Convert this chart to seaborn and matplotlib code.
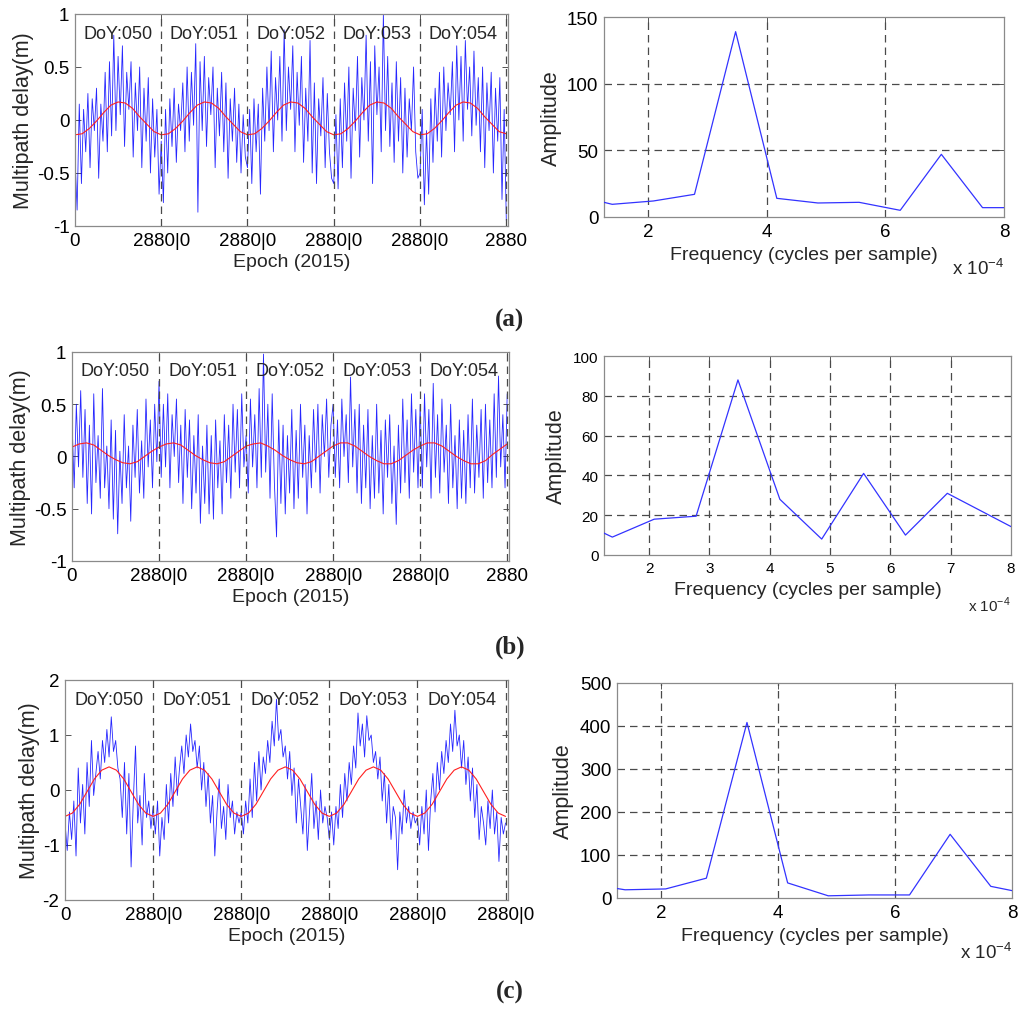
import numpy as np
import pandas as pd
import matplotlib
matplotlib.use("Agg")
import matplotlib.pyplot as plt
import seaborn as sns

sns.set_theme(style="white")
plt.rcParams['font.family'] = ['Liberation Sans', 'DejaVu Sans']
plt.rcParams['mathtext.fontset'] = 'custom'
plt.rcParams['mathtext.rm'] = 'Liberation Sans'

# ---------------- data ----------------
day_labels = ["DoY:050", "DoY:051", "DoY:052", "DoY:053", "DoY:054"]
epochs_per_day = 2880
noise_step = 72      # epoch spacing of the read noise samples
fit_step = 240       # epoch spacing of the read fitted-curve samples

xtick_labels_ab = ["0", "2880|0", "2880|0", "2880|0", "2880|0", "2880"]
xtick_labels_c = ["0", "2880|0", "2880|0", "2880|0", "2880|0", "2880|0"]

noise_a = [
    -0.35, -0.85, 0.15, -0.6, 0.1, -0.3, 0.25, -0.45, 0.2, -0.1,
    0.3, -0.55, 0.15, -0.2, 0.45, -0.3, 0.55, -0.15, 0.8, -0.1,
    0.6, 0.05, 0.7, -0.25, 0.45, 0.1, 0.55, -0.35, 0.35, -0.1,
    0.5, -0.45, 0.3, -0.2, 0.4, -0.5, 0.2, -0.35, 0.1, -0.7,
    -0.2, -0.78, 0.1, -0.5, 0.2, -0.25, 0.3, -0.4, 0.15, -0.1,
    0.35, -0.3, 0.5, -0.2, 0.45, -0.05, 0.72, -0.87, 0.55, -0.1,
    0.6, -0.25, 0.4, 0.05, 0.5, -0.45, 0.3, -0.15, 0.45, -0.3,
    0.35, -0.55, 0.2, -0.2, 0.3, -0.4, 0.15, -0.5, 0.05, -0.35,
    -0.45, 0.1, -0.6, 0.2, -0.3, 0.15, -0.7, 0.3, -0.2, 0.5,
    -0.1, 0.65, -0.3, 0.4, 0.0, 0.6, -0.2, 0.85, -0.1, 0.5,
    0.1, 0.7, -0.3, 0.45, -0.05, 0.6, -0.4, 0.3, -0.2, 0.75,
    -0.5, 0.35, -0.6, 0.2, -0.15, 0.4, -0.45, 0.25, -0.3, -0.55,
    -0.6, 0.05, -0.65, 0.2, -0.45, 0.35, -0.2, 0.5, -0.55, 0.3,
    -0.1, 0.6, -0.35, 0.4, 0.0, 0.8, -0.2, 0.55, -0.6, 0.7,
    0.05, 0.5, -0.3, 1.0, -0.1, 0.6, -0.25, 0.35, -0.4, 0.55,
    -0.2, 0.4, -0.5, 0.3, -0.35, 0.2, -0.1, 0.5, -0.3, -0.55,
    -0.5, 0.1, -0.8, -0.1, -0.7, 0.2, -0.4, 0.3, -0.2, 0.45,
    -0.35, 0.5, -0.1, 0.35, 0.05, 0.55, -0.3, 0.7, 0.0, 0.6,
    -0.2, 0.75, 0.1, 0.5, -0.15, 0.65, -0.05, 0.4, -0.3, 0.5,
    -0.45, 0.35, -0.1, 0.45, -0.5, 0.3, -0.2, 0.4, -0.75, 0.1,
    -0.95,
]
fit_a = [
    -0.14, -0.13, -0.08, -0.01, 0.07, 0.14, 0.17, 0.16, 0.11, 0.03, -0.04, -0.11,
    -0.14, -0.13, -0.08, -0.01, 0.07, 0.14, 0.17, 0.16, 0.11, 0.03, -0.04, -0.11,
    -0.14, -0.13, -0.08, -0.01, 0.07, 0.14, 0.17, 0.16, 0.11, 0.03, -0.04, -0.11,
    -0.14, -0.13, -0.08, -0.01, 0.07, 0.14, 0.17, 0.16, 0.11, 0.03, -0.04, -0.11,
    -0.14, -0.13, -0.08, -0.01, 0.07, 0.14, 0.17, 0.16, 0.11, 0.03, -0.04, -0.11,
    -0.13,
]

noise_b = [
    0.35, -0.3, 0.5, -0.1, 0.63, -0.2, 0.45, -0.45, 0.3, -0.55,
    0.6, -0.25, 0.2, -0.4, 0.65, -0.3, 0.1, -0.5, 0.35, -0.6,
    0.25, -0.74, 0.05, -0.45, 0.4, -0.3, 0.1, -0.62, 0.3, -0.2,
    0.45, -0.35, 0.15, -0.4, 0.55, -0.1, 0.35, -0.3, 0.5, -0.05,
    0.72, -0.2, 0.5, -0.1, 0.6, -0.3, 0.4, 0.0, 0.55, -0.25,
    0.3, -0.45, 0.45, -0.2, 0.35, -0.5, 0.2, -0.35, 0.4, -0.64,
    0.1, -0.45, 0.3, -0.55, 0.2, -0.6, 0.35, -0.3, 0.15, -0.55,
    0.4, -0.25, 0.3, -0.4, 0.5, -0.15, 0.45, -0.3, 0.6, -0.1,
    0.2, -0.35, 0.55, -0.1, 0.4, -0.3, 0.65, -0.2, 0.98, -0.15,
    0.5, -0.4, 0.6, -0.25, -0.77, 0.35, -0.45, 0.3, -0.55, 0.2,
    -0.35, 0.45, -0.5, 0.25, -0.4, 0.5, -0.2, 0.3, -0.55, 0.2,
    -0.3, 0.45, -0.15, 0.5, -0.35, 0.4, 0.0, 0.55, -0.2, 0.3,
    0.5, -0.2, 0.35, -0.3, 0.55, 0.0, 0.4, -0.25, 0.76, -0.1,
    0.45, -0.35, 0.5, -0.45, 0.3, -0.3, 0.45, -0.5, 0.2, -0.4,
    0.5, -0.35, 0.25, -0.55, 0.35, -0.2, 0.4, -0.45, 0.1, -0.65,
    0.3, -0.35, 0.55, -0.25, 0.35, -0.4, 0.6, -0.15, 0.45, -0.3,
    0.5, -0.3, 0.6, -0.1, 0.45, -0.4, 0.7, -0.2, 0.4, -0.35,
    0.55, -0.15, 0.3, -0.45, 0.5, -0.3, 0.2, -0.5, 0.35, -0.4,
    0.25, -0.45, 0.4, -0.3, 0.55, -0.35, 0.3, -0.2, 0.45, -0.4,
    0.5, -0.25, 0.35, -0.3, 0.6, -0.2, 0.77, -0.1, 0.4, -0.3,
    0.6,
]
fit_b = [
    0.09, 0.12, 0.13, 0.11, 0.06, 0.01, -0.03, -0.06, -0.07, -0.05, 0.00, 0.05,
    0.09, 0.12, 0.13, 0.11, 0.06, 0.01, -0.03, -0.06, -0.07, -0.05, 0.00, 0.05,
    0.10, 0.12, 0.13, 0.10, 0.06, 0.01, -0.03, -0.06, -0.07, -0.05, 0.00, 0.05,
    0.10, 0.13, 0.13, 0.10, 0.05, 0.00, -0.04, -0.07, -0.07, -0.04, 0.01, 0.06,
    0.10, 0.13, 0.13, 0.10, 0.05, 0.00, -0.04, -0.07, -0.07, -0.04, 0.02, 0.07,
    0.12,
]

noise_c = [
    -0.6, -1.1, -0.4, -0.9, -0.2, -1.2, 0.4, -0.6, 0.1, -0.8,
    0.5, -0.3, 0.9, -0.1, 0.3, 0.7, 0.2, 0.9, 0.5, 1.1,
    0.6, 1.33, 0.7, 0.9, 0.4, 0.2, -0.5, 0.5, -0.8, 0.3,
    -1.4, -0.2, 0.8, -0.6, -0.1, -1.0, 0.3, -0.5, -0.2, -0.7,
    -0.3, -0.8, -0.2, -1.2, -0.5, -0.9, 0.1, -0.6, 0.3, -0.3,
    0.6, -0.1, 0.4, 0.8, 0.3, 1.0, 0.6, 1.2, 0.7, 0.9,
    0.4, 0.8, 0.0, 0.5, -0.3, 0.3, -0.6, -0.1, -1.2, -0.4,
    0.2, -0.7, -0.3, -0.9, 0.1, -0.5, -0.2, -0.8, -0.4, -0.6,
    -0.4, -0.8, -0.2, -0.6, 0.2, -0.5, 0.5, -0.2, 0.7, 0.0,
    0.6, 0.3, 0.9, 0.5, 1.25, 0.8, 1.65, 0.9, 1.1, 0.6,
    0.8, 0.2, 0.7, -0.1, 0.4, -0.6, 0.2, -0.3, -0.8, 0.1,
    -1.1, -0.4, 0.3, -0.7, -0.2, -0.9, 0.0, -0.6, -0.3, -0.5,
    -0.9, -0.4, -1.0, -0.3, -0.7, 0.1, -0.5, 0.3, -0.2, 0.5,
    0.1, 0.8, 0.4, 1.4, 0.8, 1.2, 0.6, 1.35, 0.9, 1.0,
    0.5, 0.7, 0.2, 0.6, -0.2, 0.3, -0.6, 0.1, -0.9, -0.3,
    -0.5, -1.45, -0.4, -0.8, 0.0, -0.6, -0.3, -0.7, -0.4, -0.6,
    -0.5, -1.0, -0.3, -0.8, 0.0, -1.1, -0.2, 0.3, -0.4, 0.5,
    0.0, 0.7, 0.3, 0.9, 0.5, 1.2, 0.7, 1.45, 0.8, 1.0,
    0.4, 0.9, 0.1, 0.6, -0.2, 0.4, -0.5, 0.1, -0.9, -0.3,
    -0.6, -1.0, -0.2, -0.7, 0.0, -0.8, -0.4, -1.3, -0.5, -0.8,
    -0.6,
]
fit_c = [
    -0.48, -0.42, -0.26, -0.03, 0.20, 0.36, 0.42, 0.36, 0.20, -0.03, -0.26, -0.42,
    -0.48, -0.42, -0.26, -0.03, 0.20, 0.36, 0.42, 0.36, 0.20, -0.03, -0.26, -0.42,
    -0.48, -0.42, -0.26, -0.03, 0.20, 0.36, 0.42, 0.36, 0.20, -0.03, -0.26, -0.42,
    -0.48, -0.42, -0.26, -0.03, 0.20, 0.36, 0.42, 0.36, 0.20, -0.03, -0.26, -0.42,
    -0.48, -0.42, -0.26, -0.03, 0.20, 0.36, 0.42, 0.36, 0.20, -0.03, -0.26, -0.42,
    -0.48,
]

# spectrum: frequency in units of 1e-4 cycles/sample
freq = [0.694, 1.389, 2.083, 2.778, 3.472, 4.167, 4.861, 5.556, 6.250, 6.944, 7.639, 8.333]
amp_a = [17, 9.5, 12, 17, 139, 14, 10.5, 11, 5, 47, 7, 7]
amp_b = [19, 9, 18, 19.5, 88, 28, 8, 41, 10, 31, 20, 9]
amp_c = [34, 19, 21, 46, 408, 35, 5, 7, 7, 148, 27, 8]

# ---------------- figure ----------------
fig = plt.figure(figsize=(10.24, 10.12), dpi=100)

SPINE = '#8a8a8a'
GRID = '#4a4a4a'
DASH = (0, (6, 4))


def style_box(ax, tick_size):
    for s in ax.spines.values():
        s.set_color(SPINE)
        s.set_linewidth(0.9)
        s.set_visible(True)
    ax.tick_params(direction='in', length=4, width=0.7, color='#555555',
                   top=True, right=True, bottom=True, left=True,
                   labelsize=tick_size, pad=4, labelcolor='black')


def left_panel(rect, noise, fit, ylim, yticks, yticklabels, xlabels, xmax):
    ax = fig.add_axes(rect)
    nx = np.arange(len(noise)) * noise_step
    fx = np.arange(len(fit)) * fit_step
    dfn = pd.DataFrame({"epoch": nx, "delay": noise})
    dff = pd.DataFrame({"epoch": fx, "delay": fit})
    sns.lineplot(data=dfn, x="epoch", y="delay", ax=ax, color='#0000ff',
                 lw=0.6, alpha=0.85, estimator=None, sort=False)
    sns.lineplot(data=dff, x="epoch", y="delay", ax=ax, color='#ff2020',
                 lw=0.8, estimator=None, sort=False)
    n_days = len(day_labels)
    for k in range(1, n_days + 1):
        ax.axvline(k * epochs_per_day, color=GRID, lw=0.9, ls=DASH, zorder=3)
    for k, lab in enumerate(day_labels):
        ax.text((k + 0.5) * epochs_per_day, ylim[1] - 0.09 * (ylim[1] - ylim[0]),
                lab, ha='center', va='center', fontsize=13)
    ax.set_xlim(0, xmax)
    ax.set_ylim(*ylim)
    ax.set_xticks([k * epochs_per_day for k in range(n_days + 1)])
    ax.set_xticklabels(xlabels)
    ax.set_yticks(yticks)
    ax.set_yticklabels(yticklabels)
    style_box(ax, 13.5)
    ax.set_xlabel("Epoch (2015)", fontsize=14, labelpad=3)
    ax.set_ylabel("Multipath delay(m)", fontsize=15.5, labelpad=2)
    return ax


def right_panel(rect, amp, ylim, yticks, xticks, tick_size):
    ax = fig.add_axes(rect)
    df = pd.DataFrame({"freq": freq, "amp": amp})
    sns.lineplot(data=df, x="freq", y="amp", ax=ax, color='#3333ff', lw=0.9,
                 estimator=None, sort=False, zorder=4)
    ax.set_xlim(1.25, 8)
    ax.set_ylim(*ylim)
    ax.set_xticks(xticks)
    ax.set_xticklabels([str(t) for t in xticks])
    ax.set_yticks(yticks)
    ax.set_yticklabels([str(t) for t in yticks])
    for t in xticks[:-1]:
        ax.axvline(t, color=GRID, lw=0.9, ls=DASH, zorder=2)
    for t in yticks[1:-1]:
        ax.axhline(t, color=GRID, lw=0.9, ls=DASH, zorder=2)
    style_box(ax, tick_size)
    ax.set_xlabel("Frequency (cycles per sample)", fontsize=14, labelpad=5)
    ax.set_ylabel("Amplitude", fontsize=15.5, labelpad=4)
    ax.text(1.0, -0.2, r"x 10$^{-4}$", transform=ax.transAxes, ha='right',
            va='top', fontsize=tick_size)
    return ax


# row (a)
left_panel([0.0732, 0.7757, 0.4230, 0.2095], noise_a, fit_a, (-1, 1),
           [-1, -0.5, 0, 0.5, 1], ["-1", "-0.5", "0", "0.5", "1"],
           xtick_labels_ab, 14460)
right_panel([0.5898, 0.7846, 0.3906, 0.1976], amp_a, (0, 150),
            [0, 50, 100, 150], [2, 4, 6, 8], 13.5)

# row (b)
left_panel([0.0703, 0.4447, 0.4268, 0.2065], noise_b, fit_b, (-1, 1),
           [-1, -0.5, 0, 0.5, 1], ["-1", "-0.5", "0", "0.5", "1"],
           xtick_labels_ab, 14460)
right_panel([0.5898, 0.4506, 0.3975, 0.1966], amp_b, (0, 100),
            [0, 20, 40, 60, 80, 100], [2, 3, 4, 5, 6, 7, 8], 11)

# row (c)
left_panel([0.0635, 0.1097, 0.4326, 0.2174], noise_c, fit_c, (-2, 2),
           [-2, -1, 0, 1, 2], ["-2", "-1", "0", "1", "2"],
           xtick_labels_c, 14480)
right_panel([0.6025, 0.1117, 0.3857, 0.2125], amp_c, (0, 500),
            [0, 100, 200, 300, 400, 500], [2, 4, 6, 8], 13.5)

for lab, ypix in [("(a)", 320), ("(b)", 647), ("(c)", 992)]:
    fig.text(510 / 1024, 1 - ypix / 1012, lab, ha='center', va='center',
             fontsize=18, fontweight='bold', family=['Liberation Serif', 'DejaVu Serif'])

fig.savefig("out.png", dpi=100, facecolor='white')
